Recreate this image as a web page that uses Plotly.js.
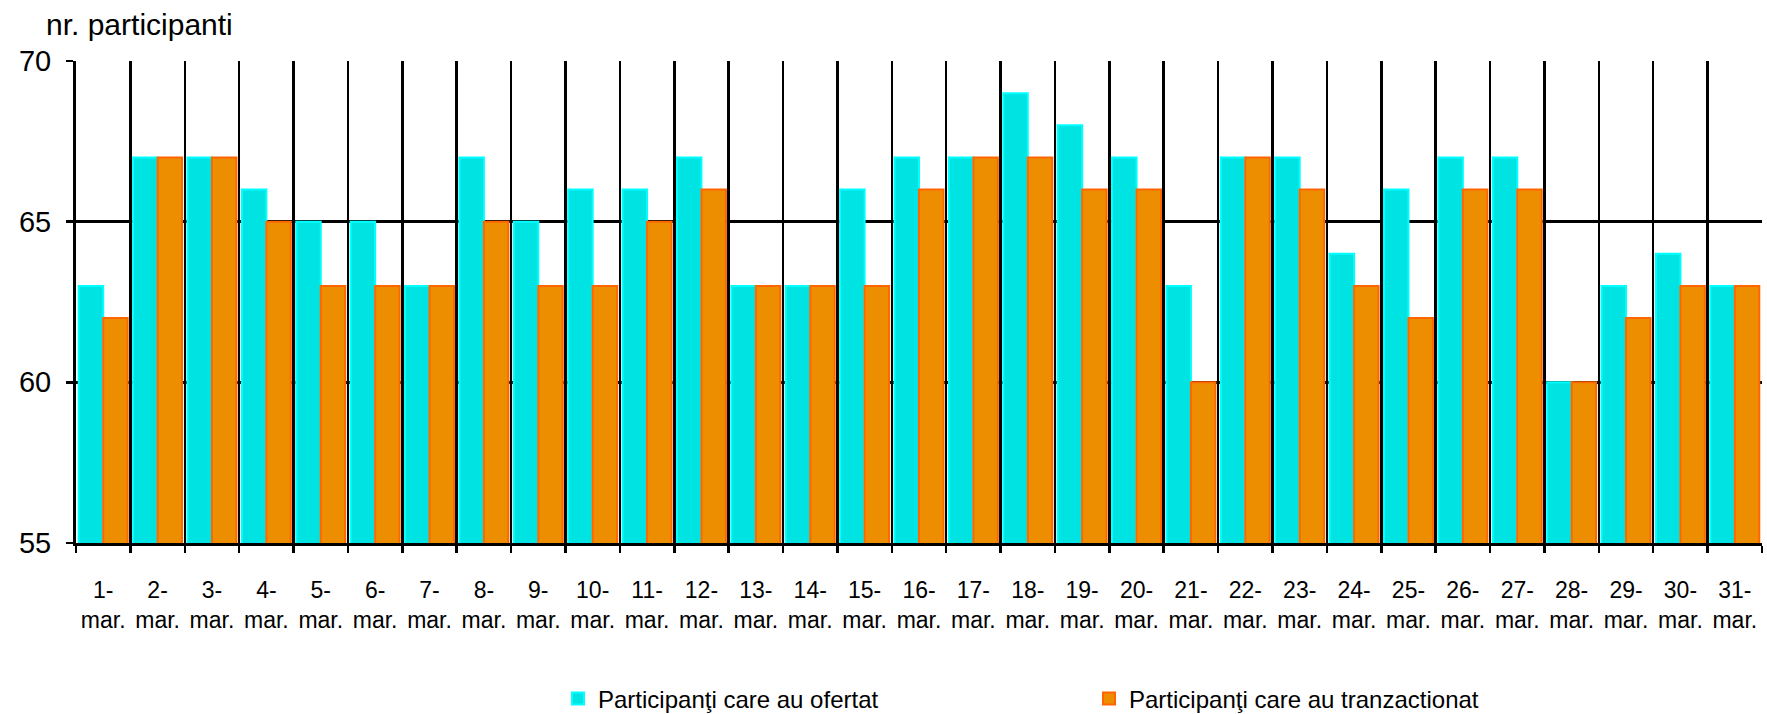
<!DOCTYPE html>
<html>
<head>
<meta charset="utf-8">
<script src="https://cdn.plot.ly/plotly-3.0.1.min.js"></script>
<style>html,body{margin:0;padding:0;background:#fff;}#chart{width:1767px;height:714px;}</style>
</head>
<body>
<div id="chart"></div>
<script>
// Days of March
var days = ["1-","2-","3-","4-","5-","6-","7-","8-","9-","10-","11-","12-","13-","14-","15-","16-",
            "17-","18-","19-","20-","21-","22-","23-","24-","25-","26-","27-","28-","29-","30-","31-"];
var monthLabel = "mar.";
var categories = days.map(function(d){ return d + "<br>" + monthLabel; });

// Participants who made offers
var ofertat = [63,67,67,66,65,65,63,67,65,66,66,67,63,63,66,67,67,69,68,67,63,67,67,64,66,67,67,60,63,64,63];
// Participants who traded
var tranzactionat = [62,67,67,65,63,63,63,65,63,63,65,66,63,63,63,66,67,67,66,66,60,67,66,63,62,66,66,60,62,63,63];

var seriesNames = ["Participanţi care au ofertat", "Participanţi care au tranzactionat"];
var yTitle = "nr. participanti";
var yTicks = [55, 60, 65, 70];

var FONT = "'Liberation Sans', Arial, sans-serif";

var traces = [
  {
    type: "bar", name: seriesNames[0], x: categories, y: ofertat,
    marker: {color: "#00E3E3", line: {color: "#00FFFF", width: 2}}
  },
  {
    type: "bar", name: seriesNames[1], x: categories, y: tranzactionat,
    marker: {color: "#EC8E00", line: {color: "#FF6600", width: 2}}
  }
];

var layout = {
  width: 1767, height: 714,
  margin: {l: 76, r: 5, t: 61, b: 171},
  paper_bgcolor: "#ffffff", plot_bgcolor: "#ffffff",
  font: {family: FONT, color: "#000000"},
  barmode: "group", bargap: 0.1, bargroupgap: 0,
  showlegend: true,
  title: {
    text: yTitle, font: {family: FONT, size: 30, color: "#000"},
    xref: "container", yref: "container", x: 46/1767, xanchor: "left",
    y: 1 - 24/714, yanchor: "middle"
  },
  xaxis: {
    type: "category", tickson: "boundaries", tickangle: 0,
    ticks: "outside", ticklen: 7, tickwidth: 2.5, tickcolor: "#000",
    showgrid: true, gridcolor: "#000", gridwidth: 2.5,
    showline: true, linecolor: "#000", linewidth: 3,
    tickfont: {family: FONT, size: 23, color: "#000"},
    ticklabelstandoff: 24,
    automargin: false,
    fixedrange: true
  },
  yaxis: {
    range: [55, 70], tickmode: "array",
    tickvals: yTicks,
    ticktext: yTicks.map(String),
    ticks: "outside", ticklen: 7, tickwidth: 2.5, tickcolor: "#000",
    showgrid: true, gridcolor: "#000", gridwidth: 2.5,
    showline: true, linecolor: "#000", linewidth: 3,
    zeroline: false,
    tickfont: {family: FONT, size: 29, color: "#000"},
    ticklabelstandoff: 9,
    automargin: false,
    fixedrange: true
  },
  legend: {
    orientation: "h", xref: "container", yref: "container",
    x: 558/1767, xanchor: "left", y: 1 - 699/714, yanchor: "middle",
    font: {family: FONT, size: 24, color: "#000"},
    entrywidth: 486, entrywidthmode: "pixels",
    itemwidth: 30, bgcolor: "rgba(0,0,0,0)"
  }
};

Plotly.newPlot("chart", traces, layout, {displayModeBar: false, staticPlot: true});
</script>
</body>
</html>
